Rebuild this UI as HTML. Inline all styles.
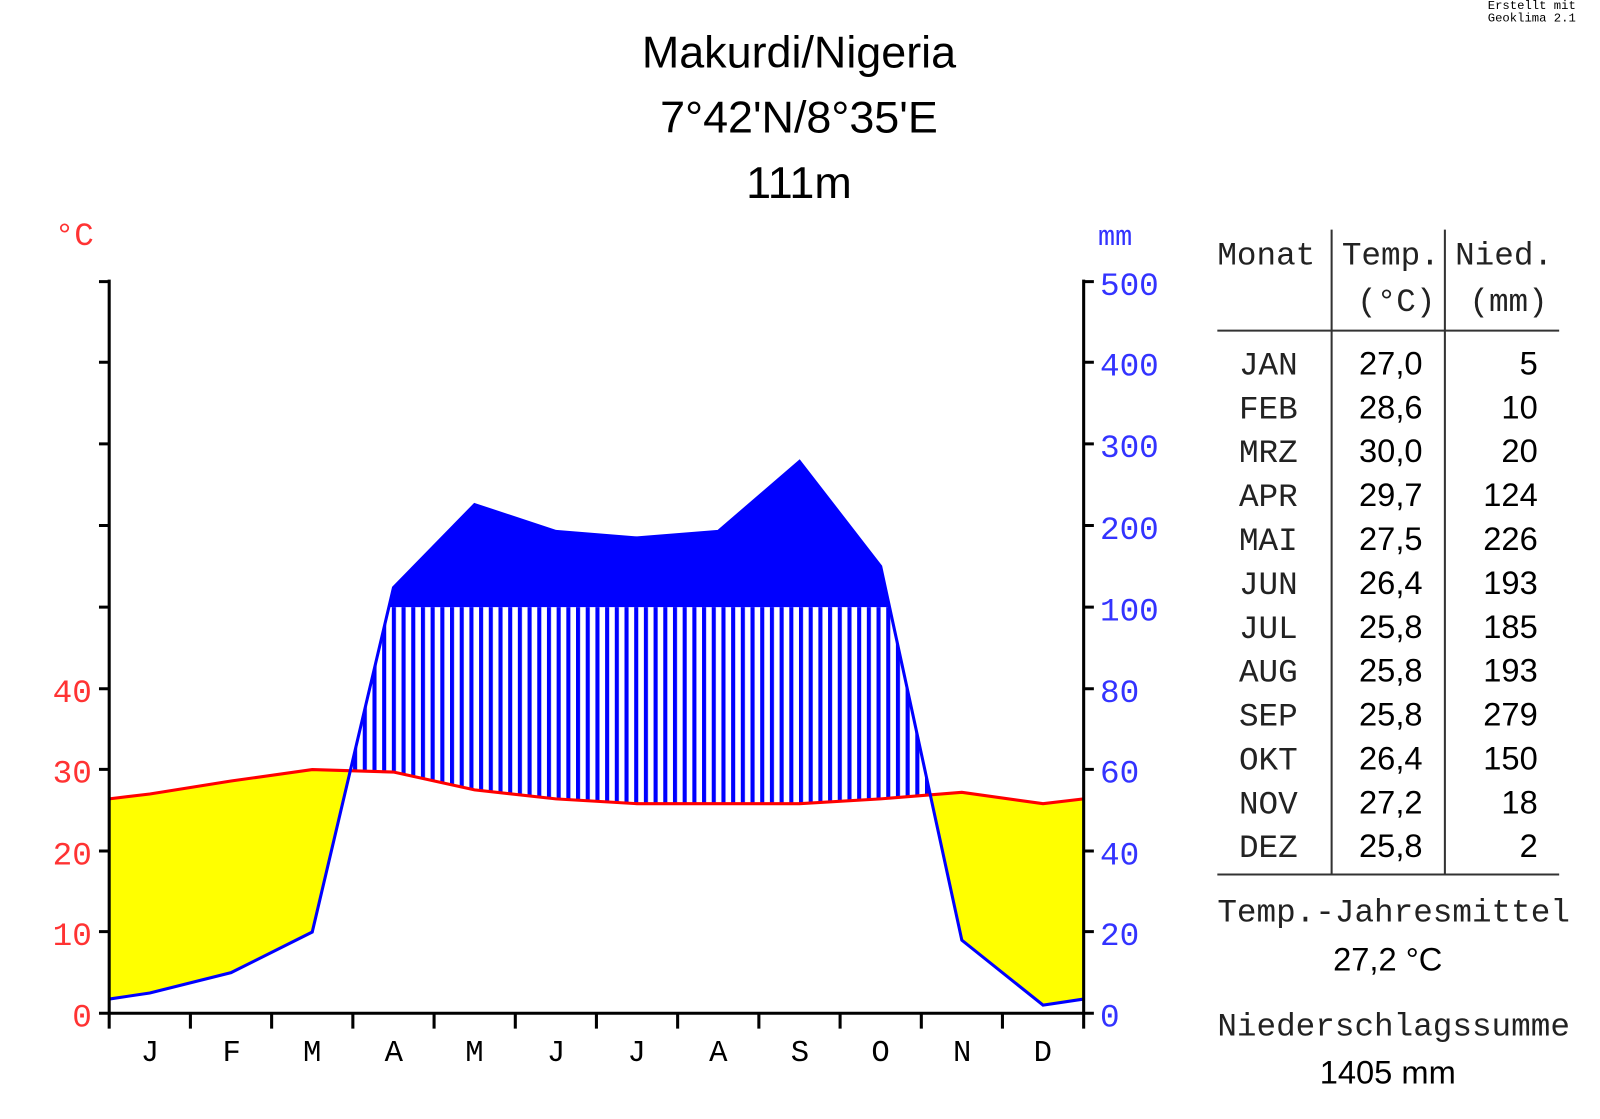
<!DOCTYPE html>
<html><head><meta charset="utf-8"><style>html,body{margin:0;padding:0;background:#fff}</style></head>
<body>
<svg width="1600" height="1114" viewBox="0 0 1600 1114" xmlns="http://www.w3.org/2000/svg">
<defs>
<pattern id="h" patternUnits="userSpaceOnUse" x="384" y="0" width="9.5" height="10">
<rect x="0" y="0" width="4" height="10" fill="#0000ff"/>
</pattern>
<clipPath id="abovePrecip"><path d="M107,979.1 L146.8,973.1 L226.4,953.2 L306,913.4 L385.6,575.9 L465.1,494.5 L544.7,520.8 L624.3,527.2 L703.9,520.8 L783.5,452.2 L863.1,555.1 L942.6,921.4 L1022.2,985 L1062,979.1 L1062,0 L107,0 Z"/></clipPath>
<clipPath id="aboveTemp"><path d="M107,782.9 L146.8,778.1 L226.4,765.4 L306,754.2 L385.6,756.6 L465.1,774.1 L544.7,782.9 L624.3,787.6 L703.9,787.6 L783.5,787.6 L863.1,782.9 L942.6,776.5 L1022.2,787.6 L1062,782.9 L1062,0 L107,0 Z"/></clipPath>
<clipPath id="above100"><rect x="107" y="0" width="955" height="595"/></clipPath>
<clipPath id="below100"><rect x="107" y="595" width="955" height="400"/></clipPath>
</defs>
<g transform="scale(1.0204)">
<path clip-path="url(#abovePrecip)" fill="#ffff00" d="M107,782.9 L146.8,778.1 L226.4,765.4 L306,754.2 L385.6,756.6 L465.1,774.1 L544.7,782.9 L624.3,787.6 L703.9,787.6 L783.5,787.6 L863.1,782.9 L942.6,776.5 L1022.2,787.6 L1062,782.9 L1062,993 L107,993 Z"/>
<g clip-path="url(#aboveTemp)"><path clip-path="url(#below100)" fill="url(#h)" d="M107,979.1 L146.8,973.1 L226.4,953.2 L306,913.4 L385.6,575.9 L465.1,494.5 L544.7,520.8 L624.3,527.2 L703.9,520.8 L783.5,452.2 L863.1,555.1 L942.6,921.4 L1022.2,985 L1062,979.1 L1062,993 L107,993 Z"/></g>
<path clip-path="url(#above100)" fill="#0000ff" d="M107,979.1 L146.8,973.1 L226.4,953.2 L306,913.4 L385.6,575.9 L465.1,494.5 L544.7,520.8 L624.3,527.2 L703.9,520.8 L783.5,452.2 L863.1,555.1 L942.6,921.4 L1022.2,985 L1062,979.1 L1062,993 L107,993 Z"/>
<polyline fill="none" stroke="#ff0000" stroke-width="3" points="107,782.9 146.8,778.1 226.4,765.4 306,754.2 385.6,756.6 465.1,774.1 544.7,782.9 624.3,787.6 703.9,787.6 783.5,787.6 863.1,782.9 942.6,776.5 1022.2,787.6 1062,782.9"/>
<polyline fill="none" stroke="#0000ff" stroke-width="3" points="107,979.1 146.8,973.1 226.4,953.2 306,913.4 385.6,575.9 465.1,494.5 544.7,520.8 624.3,527.2 703.9,520.8 783.5,452.2 863.1,555.1 942.6,921.4 1022.2,985 1062,979.1"/>
<g stroke="#000" stroke-width="3" fill="none">
<line x1="107" y1="274" x2="107" y2="1008"/>
<line x1="1062" y1="274" x2="1062" y2="1008"/>
<line x1="106" y1="993" x2="1063" y2="993"/>
<path d="M97,276H107M97,355H107M97,435H107M97,515H107M97,595H107M97,675H107M97,754H107M97,834H107M97,913H107M97,993H107"/>
<path d="M1062,276H1072M1062,355H1072M1062,435H1072M1062,515H1072M1062,595H1072M1062,675H1072M1062,754H1072M1062,834H1072M1062,913H1072M1062,993H1072"/>
<path d="M186.6,993V1008M266.2,993V1008M345.8,993V1008M425.4,993V1008M505,993V1008M584.5,993V1008M664.1,993V1008M743.7,993V1008M823.3,993V1008M902.9,993V1008M982.4,993V1008"/>
</g>
<g font-family="Liberation Mono, monospace" font-size="32" fill="#ff3333" text-anchor="end">
<text x="90" y="1006">0</text><text x="90" y="926">10</text><text x="90" y="847">20</text><text x="90" y="767">30</text><text x="90" y="688">40</text>
<text x="92" y="240">°C</text>
</g>
<g font-family="Liberation Mono, monospace" font-size="32" fill="#3333ff">
<text x="1078" y="1006">0</text><text x="1078" y="926">20</text><text x="1078" y="847">40</text><text x="1078" y="767">60</text><text x="1078" y="688">80</text>
<text x="1078" y="608">100</text><text x="1078" y="528">200</text><text x="1078" y="448">300</text><text x="1078" y="368">400</text><text x="1078" y="289">500</text>
<text x="1076" y="240" font-size="28">mm</text>
</g>
<g font-family="Liberation Mono, monospace" font-size="30" fill="#000" text-anchor="middle">
<text x="147" y="1040">J</text><text x="227" y="1040">F</text><text x="306" y="1040">M</text><text x="386" y="1040">A</text><text x="465" y="1040">M</text><text x="545" y="1040">J</text><text x="624" y="1040">J</text><text x="704" y="1040">A</text><text x="784" y="1040">S</text><text x="863" y="1040">O</text><text x="943" y="1040">N</text><text x="1022" y="1040">D</text>
</g>
<g font-family="Liberation Sans, sans-serif" font-size="44" fill="#000" text-anchor="middle">
<text x="783" y="66">Makurdi/Nigeria</text><text x="783" y="130">7°42'N/8°35'E</text><text x="783" y="194">111m</text>
</g>
<g font-family="Liberation Mono, monospace" font-size="12" fill="#000"><text x="1458" y="9">Erstellt mit</text><text x="1458" y="21">Geoklima 2.1</text></g>
<g stroke="#333" stroke-width="2"><line x1="1305" y1="225" x2="1305" y2="857"/><line x1="1416" y1="225" x2="1416" y2="857"/><line x1="1193" y1="324" x2="1528" y2="324"/><line x1="1193" y1="857" x2="1528" y2="857"/></g>
<g font-family="Liberation Mono, monospace" font-size="32" fill="#222">
<text x="1193" y="259">Monat</text><text x="1315" y="259">Temp.</text><text x="1426" y="259">Nied.</text>
<text x="1330" y="305">(°C)</text><text x="1440" y="305">(mm)</text>
</g>
<g font-family="Liberation Mono, monospace" font-size="32" fill="#222" text-anchor="middle">
<text x="1243" y="367">JAN</text><text x="1243" y="410">FEB</text><text x="1243" y="453">MRZ</text><text x="1243" y="496">APR</text><text x="1243" y="539">MAI</text><text x="1243" y="582">JUN</text><text x="1243" y="625">JUL</text><text x="1243" y="668">AUG</text><text x="1243" y="711">SEP</text><text x="1243" y="754">OKT</text><text x="1243" y="797">NOV</text><text x="1243" y="840">DEZ</text>
</g>
<g font-family="Liberation Sans, sans-serif" font-size="32" fill="#000" text-anchor="middle">
<text x="1363" y="367">27,0</text><text x="1363" y="410">28,6</text><text x="1363" y="453">30,0</text><text x="1363" y="496">29,7</text><text x="1363" y="539">27,5</text><text x="1363" y="582">26,4</text><text x="1363" y="625">25,8</text><text x="1363" y="668">25,8</text><text x="1363" y="711">25,8</text><text x="1363" y="754">26,4</text><text x="1363" y="797">27,2</text><text x="1363" y="840">25,8</text>
</g>
<g font-family="Liberation Sans, sans-serif" font-size="32" fill="#000" text-anchor="end">
<text x="1507" y="367">5</text><text x="1507" y="410">10</text><text x="1507" y="453">20</text><text x="1507" y="496">124</text><text x="1507" y="539">226</text><text x="1507" y="582">193</text><text x="1507" y="625">185</text><text x="1507" y="668">193</text><text x="1507" y="711">279</text><text x="1507" y="754">150</text><text x="1507" y="797">18</text><text x="1507" y="840">2</text>
</g>
<g font-family="Liberation Mono, monospace" font-size="32" fill="#222"><text x="1193" y="903">Temp.-Jahresmittel</text><text x="1193" y="1015">Niederschlagssumme</text></g>
<g font-family="Liberation Sans, sans-serif" font-size="32" fill="#000" text-anchor="middle"><text x="1360" y="951">27,2 °C</text><text x="1360" y="1062">1405 mm</text></g>
</g>
</svg>
</body></html>
